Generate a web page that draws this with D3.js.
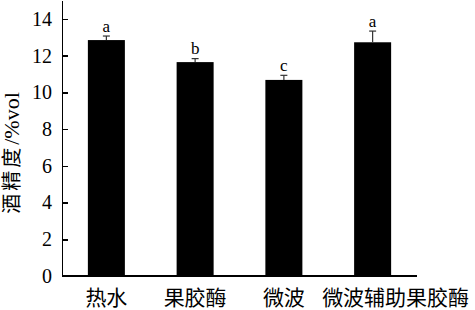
<!DOCTYPE html>
<html>
<head>
<meta charset="utf-8">
<script src="https://cdn.jsdelivr.net/npm/d3@7"></script>
<style>
  body { margin: 0; background: #fff; }
  svg { display: block; }
  .axis path, .axis line { stroke: #000; stroke-width: 1.5; shape-rendering: crispEdges; }
  .axis text { fill: #000; }
</style>
</head>
<body>
<div id="chart"></div>
<script>
// data
var categories = ["热水", "果胶酶", "微波", "微波辅助果胶酶"];
var values = [12.85, 11.65, 10.68, 12.73];
var errors = [0.22, 0.19, 0.25, 0.61];
var letters = ["a", "b", "c", "a"];
var yTicks = [0, 2, 4, 6, 8, 10, 12, 14];

var W = 475, H = 310;
var serif = "'Times New Roman', 'Liberation Serif', serif";
var cjk = "'Times New Roman', 'Liberation Serif', 'Noto Sans CJK SC', serif";

var svg = d3.select("#chart").append("svg")
    .attr("width", W)
    .attr("height", H);

var x = d3.scaleBand()
    .domain(categories)
    .range([62, 417])
    .paddingInner(0.583)
    .paddingOuter(0.2915);

var y = d3.scaleLinear()
    .domain([0, 15])
    .range([276, 0.6]);

// bars
svg.selectAll("rect.bar")
    .data(values).enter().append("rect")
    .attr("class", "bar")
    .attr("x", function(d, i){ return x(categories[i]); })
    .attr("y", function(d){ return y(d); })
    .attr("width", x.bandwidth())
    .attr("height", function(d){ return y(0) - y(d); })
    .attr("fill", "#000");

// error bars (upper only)
var eb = svg.selectAll("g.err")
    .data(values).enter().append("g")
    .attr("class", "err")
    .attr("stroke", "#333")
    .attr("stroke-width", 1.2);

eb.append("line")
    .attr("x1", function(d, i){ return x(categories[i]) + x.bandwidth() / 2; })
    .attr("x2", function(d, i){ return x(categories[i]) + x.bandwidth() / 2; })
    .attr("y1", function(d){ return y(d); })
    .attr("y2", function(d, i){ return y(d + errors[i]); });

eb.append("line")
    .attr("x1", function(d, i){ return x(categories[i]) + x.bandwidth() / 2 - 3.5; })
    .attr("x2", function(d, i){ return x(categories[i]) + x.bandwidth() / 2 + 3.5; })
    .attr("y1", function(d, i){ return y(d + errors[i]); })
    .attr("y2", function(d, i){ return y(d + errors[i]); });

// significance letters
svg.selectAll("text.sig")
    .data(values).enter().append("text")
    .attr("class", "sig")
    .attr("x", function(d, i){ return x(categories[i]) + x.bandwidth() / 2; })
    .attr("y", function(d, i){ return y(d + errors[i]) - 4.5; })
    .attr("text-anchor", "middle")
    .style("font-family", serif)
    .style("font-size", "17px")
    .text(function(d, i){ return letters[i]; });

// y axis
var yAxis = svg.append("g")
    .attr("class", "axis")
    .attr("transform", "translate(62,0)")
    .call(d3.axisLeft(y).tickValues(yTicks).tickSizeInner(-6).tickSizeOuter(0).tickPadding(10));
yAxis.attr("font-family", serif);
yAxis.selectAll("text")
    .style("font-family", serif)
    .style("font-size", "20px");

// x axis
var xAxis = svg.append("g")
    .attr("class", "axis")
    .attr("transform", "translate(0,276)")
    .call(d3.axisBottom(x).tickSize(0).tickPadding(0));
xAxis.select(".domain").attr("d", "M62,0H417");
xAxis.selectAll("text")
    .attr("y", 29)
    .attr("dy", 0)
    .style("font-family", cjk)
    .style("font-size", "21px")
    .attr("dx", function(d, i){ return i == 3 ? 23 : 0; });

// y label
var ylab = svg.append("text")
    .attr("transform", "translate(19,153) rotate(-90)")
    .attr("text-anchor", "middle")
    .style("font-family", cjk)
    .style("font-size", "20px");
ylab.append("tspan").style("letter-spacing", "3px").text("酒精度");
ylab.append("tspan").style("font-size", "22px").text("/%vol");
</script>
</body>
</html>
